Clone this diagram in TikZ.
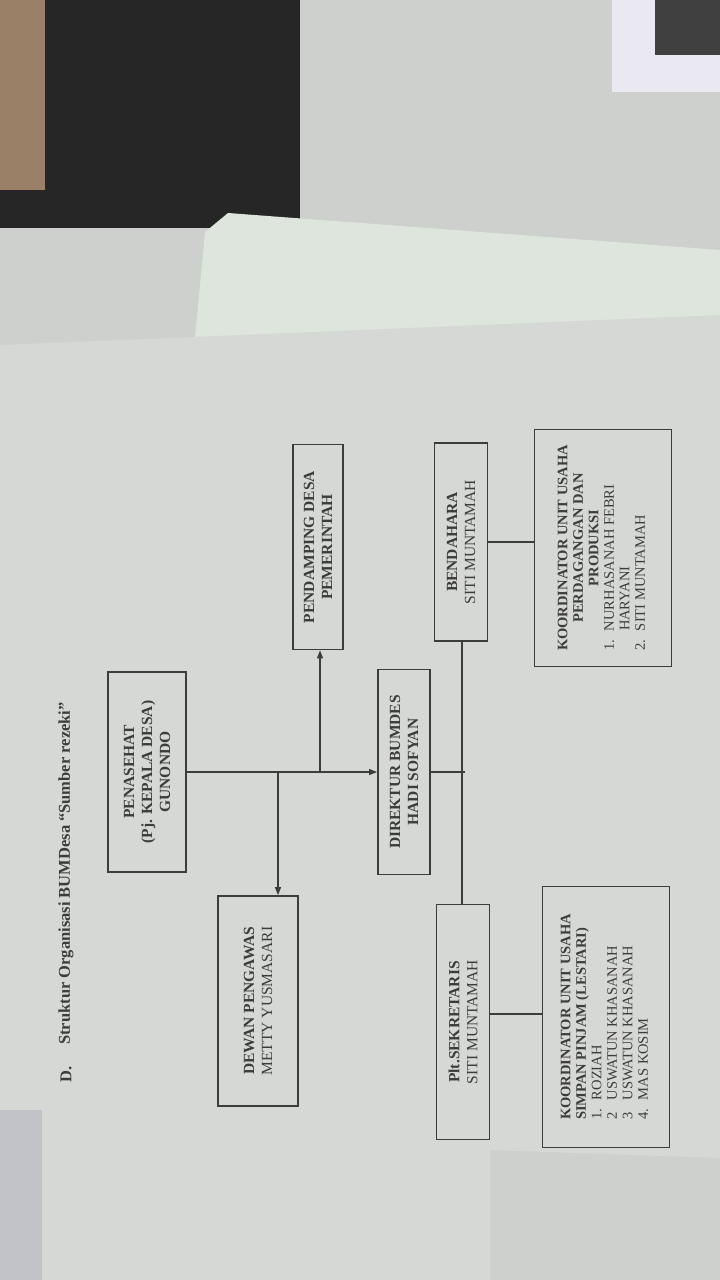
\documentclass[tikz,border=0pt]{standalone}
\usepackage{fontspec}
\setmainfont{Liberation Serif}
\usetikzlibrary{arrows.meta}
\definecolor{ink}{HTML}{3C3C3C}
\definecolor{paper}{HTML}{D6D8D5}
\definecolor{desk}{HTML}{CDD0CC}

\begin{document}
\begin{tikzpicture}[x=1pt,y=-1pt,
	unit/.style={draw=ink,line width=1.8pt,rotate=90,align=center,inner sep=0pt,text=ink,
		font=\fontsize{15.5}{18}\selectfont},
	boldunit/.style={unit,font=\bfseries\fontsize{15.5}{18}\selectfont},
	koord/.style={unit,font=\fontsize{14.5}{15.5}\selectfont},
	caption/.style={rotate=90,anchor=west,inner sep=0pt,text=ink,
		font=\bfseries\fontsize{16.5}{18}\selectfont},
	link/.style={draw=ink,line width=1.1pt},
	>={Triangle[length=8pt,width=6pt]}]
\useasboundingbox (0,0) rectangle (720,1280);
% photo background
\fill[desk] (0,0) rectangle (720,1280);
\fill[black!85] (0,0) rectangle (300,228);
\fill[brown!40!gray] (0,0) rectangle (45,190);
\fill[red!8!blue!4!white!90!gray] (612,-20) rectangle (740,92);
\fill[black!75] (655,-20) rectangle (740,55);
\fill[green!4!white!80!gray] (195,338) -- (205,232) -- (228,213) -- (720,250) -- (720,330) -- cycle;
\fill[paper] (0,345) -- (720,315) -- (720,1158) -- (490,1150) -- (490,1280) -- (0,1280) -- cycle;
\fill[blue!6!gray!45] (0,1110) rectangle (42,1280);

\node[caption] (sec) at (66,1083) {D.};
\node[caption] (title) at (66,1045) {Struktur Organisasi BUMDesa “Sumber rezeki”};

\node[boldunit,minimum width=200pt,minimum height=78pt] (pen) at (147,772)
	{PENASEHAT\\(Pj. KEPALA DESA)\\GUNONDO};
\node[unit,minimum width=210pt,minimum height=80pt] (dewan) at (258,1001)
	{{\bfseries DEWAN PENGAWAS}\\METTY YUSMASARI};
\node[boldunit,minimum width=205pt,minimum height=50pt] (pend) at (318,547)
	{PENDAMPING DESA\\PEMERINTAH};
\node[boldunit,minimum width=205pt,minimum height=52pt] (dir) at (404,772)
	{DIREKTUR BUMDES\\HADI SOFYAN};
\node[unit,minimum width=198pt,minimum height=53pt] (bend) at (461,542)
	{{\bfseries BENDAHARA}\\SITI MUNTAMAH};
\node[unit,minimum width=235pt,minimum height=53pt] (sek) at (463,1022)
	{{\bfseries Plt.SEKRETARIS}\\SITI MUNTAMAH};
\node[koord,minimum width=237pt,minimum height=137pt] (kpp) at (603,548)
	{\begin{tabular}{@{}l@{\hspace{9pt}}l@{}}
	\multicolumn{2}{@{}c@{}}{\bfseries KOORDINATOR UNIT USAHA}\\
	\multicolumn{2}{@{}c@{}}{\bfseries PERDAGANGAN DAN}\\
	\multicolumn{2}{@{}c@{}}{\bfseries PRODUKSI}\\
	1. & NURHASANAH FEBRI\\
	   & HARYANI\\
	2. & SITI MUNTAMAH
	\end{tabular}};
\node[koord,minimum width=261pt,minimum height=127pt] (ksp) at (606,1017)
	{\begin{tabular}{@{}l@{\hspace{9pt}}l@{}}
	\multicolumn{2}{@{}l@{}}{\bfseries KOORDINATOR UNIT USAHA}\\
	\multicolumn{2}{@{}l@{}}{\bfseries SIMPAN PINJAM (LESTARI)}\\
	1. & ROZIAH\\
	2 & USWATUN KHASANAH\\
	3 & USWATUN KHASANAH\\
	4. & MAS KOSIM
	\end{tabular}};

\coordinate (fork1) at (278,772);
\coordinate (fork2) at (320,772);
\coordinate (trunk) at (462,772);
\draw[link,->] (pen.south) -- (dir.north);
\draw[link,->] (fork1) -- (fork1 |- dewan.east);
\draw[link,->] (fork2) -- (fork2 |- pend.west);
\draw[link] (dir.south) -- ([xshift=3pt]trunk);
\draw[link] (trunk |- bend.west) -- (trunk |- sek.east);
\draw[link] (bend.south) -- (bend.south -| kpp.north);
\draw[link] ([yshift=8pt]sek.south) -- ([yshift=8pt]sek.south -| ksp.north);
\end{tikzpicture}
\end{document}
